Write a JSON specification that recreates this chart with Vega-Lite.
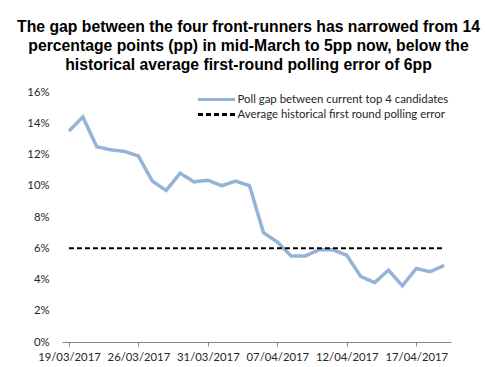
{
  "$schema": "https://vega.github.io/schema/vega-lite/v6.json",
  "autosize": {"type": "none"},
  "width": 389,
  "height": 250,
  "padding": {"left": 62, "top": 92, "right": 34, "bottom": 25},
  "background": "white",
  "title": {
    "text": ["The gap between the four front-runners has narrowed from 14", "percentage points (pp) in mid-March to 5pp now, below the", "historical average first-round polling error of 6pp"],
    "font": "Liberation Sans",
    "fontSize": 15.75,
    "fontWeight": "bold",
    "color": "#000000",
    "lineHeight": 19.3,
    "anchor": "middle",
    "frame": "group",
    "dx": -8,
    "offset": 12
  },
  "config": {
    "view": {"stroke": null},
    "font": "Lato"
  },
  "data": {
    "values": [
      {"date": "2017-03-19", "series": "Poll gap between current top 4 candidates", "value": 0.135},
      {"date": "2017-03-20", "series": "Poll gap between current top 4 candidates", "value": 0.144},
      {"date": "2017-03-21", "series": "Poll gap between current top 4 candidates", "value": 0.125},
      {"date": "2017-03-22", "series": "Poll gap between current top 4 candidates", "value": 0.123},
      {"date": "2017-03-24", "series": "Poll gap between current top 4 candidates", "value": 0.122},
      {"date": "2017-03-26", "series": "Poll gap between current top 4 candidates", "value": 0.119},
      {"date": "2017-03-27", "series": "Poll gap between current top 4 candidates", "value": 0.103},
      {"date": "2017-03-28", "series": "Poll gap between current top 4 candidates", "value": 0.097},
      {"date": "2017-03-29", "series": "Poll gap between current top 4 candidates", "value": 0.108},
      {"date": "2017-03-30", "series": "Poll gap between current top 4 candidates", "value": 0.1025},
      {"date": "2017-03-31", "series": "Poll gap between current top 4 candidates", "value": 0.1035},
      {"date": "2017-04-01", "series": "Poll gap between current top 4 candidates", "value": 0.100},
      {"date": "2017-04-03", "series": "Poll gap between current top 4 candidates", "value": 0.103},
      {"date": "2017-04-04", "series": "Poll gap between current top 4 candidates", "value": 0.100},
      {"date": "2017-04-05", "series": "Poll gap between current top 4 candidates", "value": 0.070},
      {"date": "2017-04-07", "series": "Poll gap between current top 4 candidates", "value": 0.064},
      {"date": "2017-04-08", "series": "Poll gap between current top 4 candidates", "value": 0.055},
      {"date": "2017-04-09", "series": "Poll gap between current top 4 candidates", "value": 0.055},
      {"date": "2017-04-10", "series": "Poll gap between current top 4 candidates", "value": 0.059},
      {"date": "2017-04-11", "series": "Poll gap between current top 4 candidates", "value": 0.059},
      {"date": "2017-04-12", "series": "Poll gap between current top 4 candidates", "value": 0.0555},
      {"date": "2017-04-13", "series": "Poll gap between current top 4 candidates", "value": 0.042},
      {"date": "2017-04-14", "series": "Poll gap between current top 4 candidates", "value": 0.038},
      {"date": "2017-04-15", "series": "Poll gap between current top 4 candidates", "value": 0.046},
      {"date": "2017-04-16", "series": "Poll gap between current top 4 candidates", "value": 0.036},
      {"date": "2017-04-17", "series": "Poll gap between current top 4 candidates", "value": 0.047},
      {"date": "2017-04-18", "series": "Poll gap between current top 4 candidates", "value": 0.045},
      {"date": "2017-04-19", "series": "Poll gap between current top 4 candidates", "value": 0.049},
      {"date": "2017-03-19", "series": "Average historical first round polling error", "value": 0.06},
      {"date": "2017-04-19", "series": "Average historical first round polling error", "value": 0.06}
    ]
  },
  "encoding": {
    "x": {
      "field": "date",
      "type": "ordinal",
      "timeUnit": "utcyearmonthdate",
      "scale": {"paddingInner": 0, "paddingOuter": 0},
      "axis": {
        "title": null,
        "values": [
          {"year": 2017, "month": 3, "date": 19, "utc": true},
          {"year": 2017, "month": 3, "date": 26, "utc": true},
          {"year": 2017, "month": 3, "date": 31, "utc": true},
          {"year": 2017, "month": 4, "date": 7, "utc": true},
          {"year": 2017, "month": 4, "date": 12, "utc": true},
          {"year": 2017, "month": 4, "date": 17, "utc": true}
        ],
        "labelExpr": "utcFormat(datum.value, '%d/%m/%Y')",
        "bandPosition": 0,
        "labelDx": 7,
        "labelAngle": 0,
        "labelFont": "Lato",
        "labelFontSize": 11.3,
        "labelColor": "#262626",
        "labelPadding": 5,
        "labelOverlap": false,
        "domainColor": "#868686",
        "tickColor": "#868686",
        "tickSize": 4,
        "grid": false
      }
    },
    "y": {
      "field": "value",
      "type": "quantitative",
      "scale": {"domain": [0, 0.16], "nice": false},
      "axis": {
        "title": null,
        "values": [0, 0.02, 0.04, 0.06, 0.08, 0.1, 0.12, 0.14, 0.16],
        "format": ".0%",
        "domain": false,
        "ticks": false,
        "tickSize": 0,
        "grid": false,
        "labelPadding": 13,
        "labelFont": "Lato",
        "labelFontSize": 11.3,
        "labelColor": "#262626"
      }
    },
    "color": {
      "field": "series",
      "type": "nominal",
      "scale": {
        "domain": ["Poll gap between current top 4 candidates", "Average historical first round polling error"],
        "range": ["#95B3D7", "#000000"]
      },
      "legend": {
        "title": null,
        "orient": "none",
        "legendX": 134.5,
        "legendY": 0,
        "symbolType": "stroke",
        "symbolSize": 1369,
        "symbolStrokeWidth": 3,
        "clipHeight": 15,
        "rowPadding": 0,
        "labelOffset": 1,
        "labelLimit": 300,
        "labelFont": "Lato",
        "labelFontSize": 11.4,
        "labelColor": "#262626"
      }
    },
    "strokeDash": {
      "field": "series",
      "type": "nominal",
      "scale": {
        "domain": ["Poll gap between current top 4 candidates", "Average historical first round polling error"],
        "range": [[1, 0], [5, 3]]
      },
      "legend": {
        "title": null,
        "orient": "none",
        "legendX": 134.5,
        "legendY": 0,
        "symbolType": "stroke",
        "symbolSize": 1369,
        "symbolStrokeWidth": 3,
        "clipHeight": 15,
        "rowPadding": 0,
        "labelOffset": 1,
        "labelLimit": 300,
        "labelFont": "Lato",
        "labelFontSize": 11.4,
        "labelColor": "#262626"
      }
    }
  },
  "layer": [
    {
      "transform": [{"filter": "datum.series == 'Poll gap between current top 4 candidates'"}],
      "mark": {"type": "line", "strokeWidth": 3.5, "strokeJoin": "miter"}
    },
    {
      "transform": [{"filter": "datum.series == 'Average historical first round polling error'"}],
      "mark": {"type": "line", "strokeWidth": 2}
    }
  ]
}
